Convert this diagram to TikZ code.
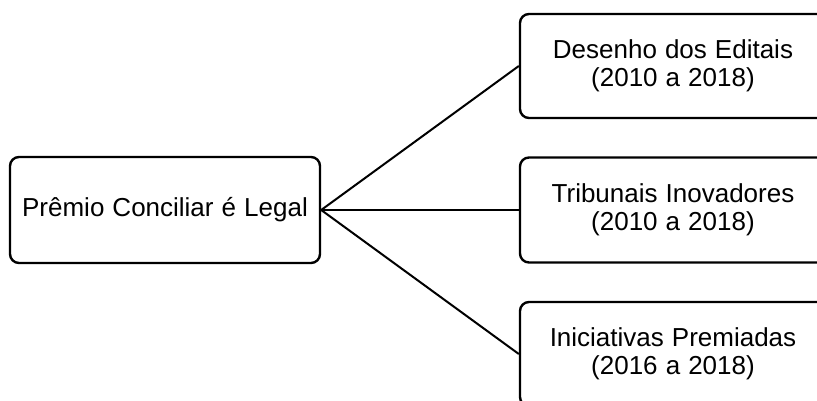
\documentclass[tikz,border=0pt]{standalone}
\usepackage{fontspec}
\setmainfont{Liberation Sans}
\usetikzlibrary{positioning}
\newcommand{\boxfont}{\fontsize{26}{27.5}\selectfont\spaceskip=0.31em\relax}

\begin{document}
\begin{tikzpicture}[x=1pt, y=-1pt,
    box/.style={draw, line width=2.4pt, rounded corners=9pt, align=center,
      inner sep=0pt, font=\boxfont},
    link/.style={line width=2pt}]
    \useasboundingbox (0,0) rectangle (817,401);
    \clip (0,0) rectangle (817,401);

    % Main node
    \node[box, minimum width=310pt, minimum height=106pt] (premio) at (165,210) {Prêmio Conciliar é Legal};

    % Categories
    \node[box, minimum width=306pt, minimum height=104pt] (editais) at (673,66) {Desenho dos Editais\\(2010 a 2018)};
    \node[box, minimum width=306pt, minimum height=105pt] (tribunais) at (673,210) {Tribunais Inovadores\\(2010 a 2018)};
    \node[box, minimum width=306pt, minimum height=104pt] (iniciativas) at (673,354) {Iniciativas Premiadas\\(2016 a 2018)};

    % Links
    \draw[link] (premio.east) -- (editais.west);
    \draw[link] (premio.east) -- (tribunais.west);
    \draw[link] (premio.east) -- (iniciativas.west);
\end{tikzpicture}
\end{document}
